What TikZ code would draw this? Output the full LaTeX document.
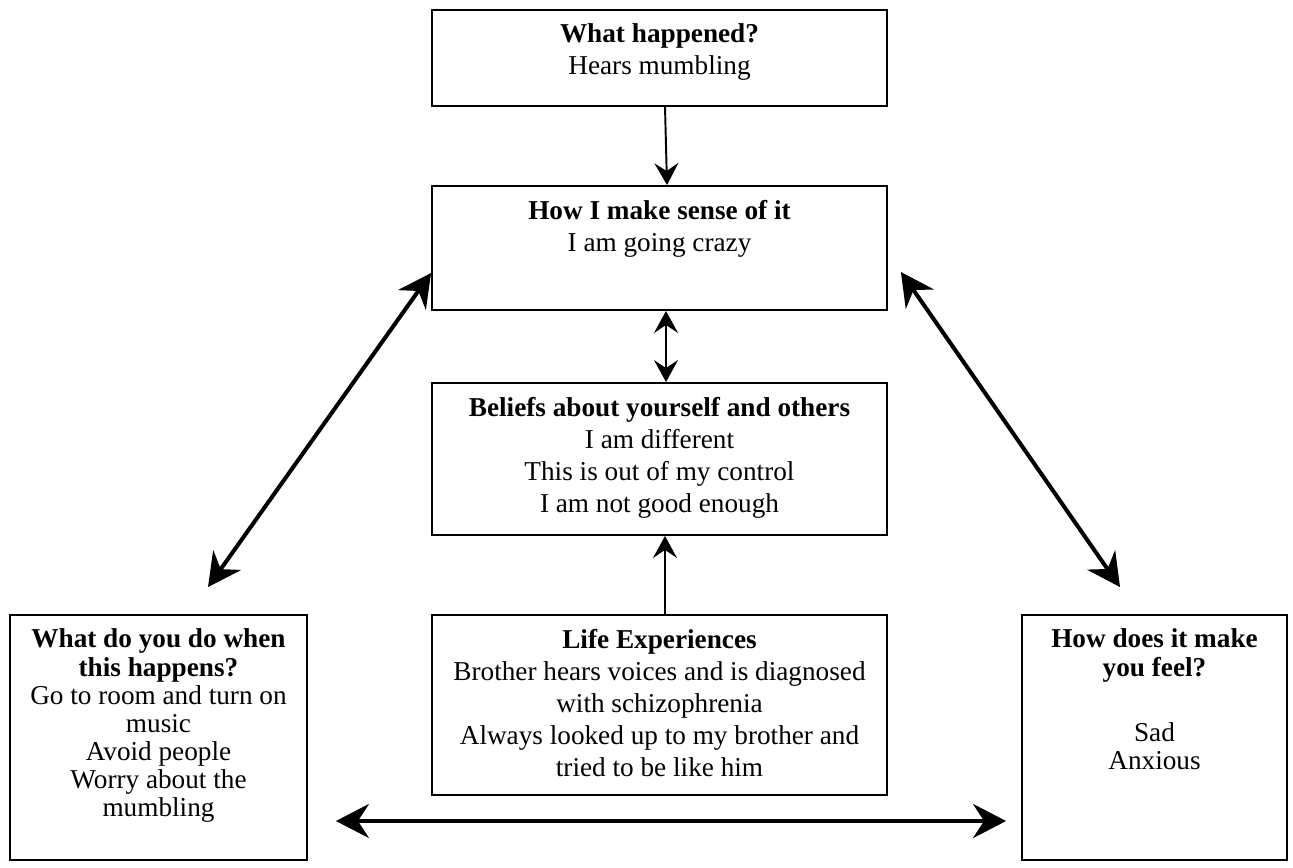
\documentclass[tikz,border=0pt]{standalone}
\usepackage{fontspec}
\setmainfont{Liberation Serif}
\usepackage{tikz}
\usetikzlibrary{arrows.meta, positioning}
\newcommand{\cellbox}[3]{\parbox[t][#2][t]{#1}{\centering #3}}
\newcommand{\midfont}{\fontsize{15.5}{18.2}\selectfont}
\newcommand{\sidefont}{\fontsize{15.5}{16}\selectfont}

\begin{document}
\begin{tikzpicture}[x=0.02cm, y=-0.02cm, box/.style={draw, line width=1.1pt, inner xsep=0.1cm, inner ysep=0.28cm}, oneway/.style={line width=1.1pt, -{Stealth[length=0.44cm, width=0.48cm, inset=0.16cm]}}, twoway/.style={line width=1.1pt, {Stealth[length=0.44cm, width=0.48cm, inset=0.16cm]}-{Stealth[length=0.44cm, width=0.48cm, inset=0.16cm]}}, bigtwoway/.style={line width=2.3pt, {Stealth[length=0.66cm, width=0.68cm, inset=0.22cm]}-{Stealth[length=0.66cm, width=0.68cm, inset=0.22cm]}}]
\useasboundingbox (0,0) rectangle (1293,867);
% centre column
\node[box] (whathap) at (659.5,58) {\cellbox{8.9cm}{1.36cm}{\midfont\textbf{What happened?}\\ Hears mumbling}};
\node[box] (sense) at (659.5,248) {\cellbox{8.9cm}{1.92cm}{\midfont\textbf{How I make sense of it}\\ I am going crazy}};
\node[box] (beliefs) at (659.5,459) {\cellbox{8.9cm}{2.48cm}{\midfont\textbf{Beliefs about yourself and others}\\ I am different\\ This is out of my control\\ I am not good enough}};
\node[box] (life) at (659.5,705) {\cellbox{8.9cm}{3.04cm}{\midfont\textbf{Life Experiences}\\ Brother hears voices and is diagnosed\\ with schizophrenia\\ Always looked up to my brother and\\ tried to be like him}};
% side boxes
\node[box] (dowhat) at (158.5,737.5) {\cellbox{5.74cm}{4.34cm}{\sidefont\textbf{What do you do when}\\ \textbf{this happens?}\\ Go to room and turn on\\ music\\ Avoid people\\ Worry about the\\ mumbling}};
\node[box] (feel) at (1154.5,737.5) {\cellbox{5.1cm}{4.34cm}{\sidefont\textbf{How does it make}\\ \textbf{you feel?}\\[0.75cm] Sad\\ Anxious}};
% arrows
\draw[oneway] ([xshift=0.11cm]whathap.south) -- ([xshift=0.15cm]sense.north);
\draw[twoway] ([xshift=0.13cm]sense.south) -- ([xshift=0.13cm]beliefs.north);
\draw[oneway] ([xshift=0.11cm]life.north) -- ([xshift=0.11cm]beliefs.south);
\draw[bigtwoway] ([yshift=-0.5cm]sense.west) -- ([xshift=0.99cm, yshift=0.54cm]dowhat.north);
\draw[bigtwoway] ([xshift=0.26cm, yshift=-0.48cm]sense.east) -- ([xshift=-0.69cm, yshift=0.54cm]feel.north);
\draw[bigtwoway] ([xshift=0.56cm, yshift=-1.67cm]dowhat.east) -- ([xshift=-0.3cm, yshift=-1.67cm]feel.west);
\end{tikzpicture}
\end{document}
